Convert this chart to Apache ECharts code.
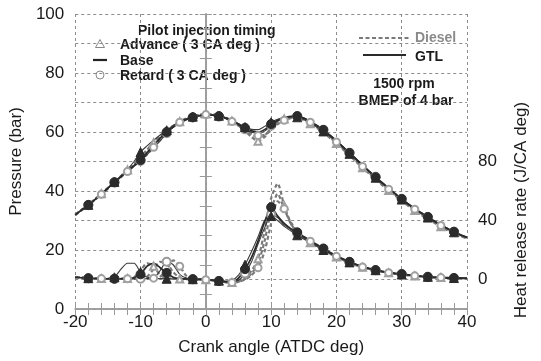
<!DOCTYPE html>
<html>
<head>
<meta charset="utf-8">
<script src="https://cdn.jsdelivr.net/npm/echarts@6/dist/echarts.min.js"></script>
<style>
  html, body { margin: 0; padding: 0; background: #fff; }
  #chart { width: 541px; height: 361px; }
</style>
</head>
<body>
<div id="chart"></div>
<script>
// Crank angle, ATDC deg
const CRANK = [-20,-19,-18,-17,-16,-15,-14,-13,-12,-11,-10,-9,-8,-7,-6,-5,-4,-3,-2,-1,
  0,1,2,3,4,5,6,7,8,9,10,11,12,13,14,15,16,17,18,19,20,21,22,23,24,25,26,27,28,29,
  30,31,32,33,34,35,36,37,38,39,40];

// Cylinder pressure, bar
const P_GTL_BASE = [31.9,33.6,35.3,37.1,39.0,41.0,43.0,44.9,46.8,48.6,50.5,53.0,55.4,57.9,60.0,61.7,63.1,64.2,65.0,65.5,
  65.7,65.7,65.4,64.8,63.9,62.7,61.4,60.4,60.0,60.8,62.7,64.0,64.8,65.3,65.4,64.7,63.5,62.2,60.7,58.9,
  57.0,55.0,52.9,50.9,48.8,46.7,44.7,42.8,41.0,39.1,37.3,35.6,34.0,32.6,31.2,29.8,28.5,27.3,26.2,25.2,24.3];
const P_GTL_ADV = [31.9,33.6,35.3,37.1,39.0,41.0,43.1,45.1,47.3,50.0,53.2,55.3,57.2,59.0,60.6,62.2,63.5,64.5,65.2,65.7,
  65.9,65.8,65.5,64.8,63.9,62.8,61.7,60.9,60.8,61.9,63.3,64.3,64.9,65.1,65.0,64.2,63.0,61.7,60.2,58.5,
  56.6,54.6,52.6,50.6,48.5,46.5,44.5,42.6,40.8,38.9,37.1,35.4,33.8,32.4,31.0,29.6,28.3,27.1,26.0,25.0,24.1];
const P_GTL_RET = [31.9,33.6,35.2,37.0,38.9,40.8,42.8,44.7,46.6,48.4,50.2,52.3,54.6,57.0,59.6,61.6,63.1,64.2,64.9,65.4,
  65.6,65.6,65.2,64.6,63.6,62.3,60.9,59.9,59.6,60.3,62.2,63.7,64.6,65.2,65.3,64.7,63.6,62.3,60.8,59.0,
  57.1,55.1,53.0,51.0,48.9,46.8,44.8,42.9,41.0,39.2,37.4,35.7,34.1,32.6,31.2,29.9,28.6,27.4,26.2,25.2,24.3];
const P_DSL_ADV = [32.0,33.7,35.4,37.2,39.1,41.1,43.1,45.1,47.1,49.2,51.6,54.0,56.4,58.6,60.5,62.1,63.5,64.6,65.4,65.9,
  66.1,66.0,65.6,64.9,63.7,62.2,60.4,58.3,56.9,58.3,61.5,63.5,64.4,64.8,64.8,64.0,62.8,61.4,59.8,58.0,
  56.1,54.1,52.1,50.0,47.9,45.9,43.9,42.0,40.2,38.4,36.6,35.0,33.4,31.9,30.5,29.2,27.9,26.7,25.6,24.7,23.9];
const P_DSL_BASE = [31.9,33.6,35.3,37.1,39.0,41.0,43.0,44.9,46.9,48.8,50.9,53.3,55.9,58.3,60.3,62.0,63.4,64.5,65.3,65.8,
  66.0,65.9,65.5,64.8,63.7,62.3,60.7,59.1,58.2,58.9,61.0,63.0,64.2,64.8,64.9,64.3,63.1,61.7,60.1,58.3,
  56.4,54.4,52.4,50.3,48.2,46.2,44.2,42.3,40.5,38.7,36.9,35.3,33.7,32.2,30.8,29.5,28.2,27.0,25.9,25.0,24.1];
const P_DSL_RET = [31.8,33.5,35.2,37.0,38.9,40.8,42.8,44.7,46.6,48.5,50.4,52.4,54.8,57.3,59.8,61.8,63.3,64.4,65.2,65.7,
  65.9,65.8,65.4,64.7,63.6,62.3,60.8,59.5,58.8,59.1,60.6,62.6,64.0,64.7,64.9,64.4,63.3,61.9,60.3,58.5,
  56.6,54.6,52.5,50.4,48.3,46.3,44.3,42.4,40.6,38.8,37.0,35.4,33.8,32.3,30.9,29.6,28.3,27.1,26.0,25.1,24.2];

// Heat release rate, J/CA deg
const H_GTL_BASE = [1.5,1.2,0.9,0.7,0.6,0.5,0.5,0.5,0.7,1.2, 3.5,9,11,8,4.5,1.5,0.6,0.4,0.2,0.1,
  0,-0.4,-1,-1.5,-1.5,1,7,15,26,39, 49,43,38,34.5,32,29,26.5,23.7,21,18.5,
  16,14,12,10.3,8.8,7.5,6.4,5.5,4.8,4.2, 3.7,3.2,2.7,2.2,1.8,1.5,1.3,1.1,1,0.9, 0.8];
const H_GTL_ADV = [1.5,1.2,0.9,0.7,0.6,0.6,1.5,7,11,11, 5,1.5,0.8,0.6,0.5,0.5,0.4,0.3,0.2,0.1,
  0,-0.3,-0.8,-1.2,-0.5,3,10,19,29,40, 43,40,36,33,30,27.5,25,22.5,20,17.7,
  15.5,13.5,11.6,10,8.6,7.4,6.3,5.4,4.6,4, 3.4,2.9,2.5,2.1,1.8,1.5,1.3,1.1,1,0.9, 0.8];
const H_GTL_RET = [1.5,1.2,0.9,0.7,0.6,0.5,0.5,0.4,0.4,0.4, 0.5,0.6,1,6,12,10,3.5,1,0.3,0.1,
  0,-0.4,-1,-1.5,-1.8,-0.5,4,12,24,35, 44,42,37,34,31,28.5,26,23.3,20.8,18.3,
  15.8,13.8,11.8,10.1,8.7,7.4,6.3,5.4,4.7,4.1, 3.6,3.1,2.6,2.2,1.8,1.5,1.3,1.1,1,0.9, 0.8];
const H_DSL_ADV = [1.6,1.3,1,0.8,0.6,0.5,0.5,0.5,0.6,1.5, 6,11,9,3,1,0.5,0.3,0.2,0.1,0,
  -0.2,-0.6,-1.2,-1.8,-2,-1.2,1.5,6,14,33, 55,65,50,38,31.5,28,25,22.3,19.8,17.4,
  15.2,13.2,11.3,9.7,8.3,7.1,6.1,5.2,4.5,3.9, 3.3,2.8,2.4,2,1.7,1.5,1.3,1.1,1,0.9, 0.8];
const H_DSL_BASE = [1.6,1.3,1,0.8,0.6,0.5,0.5,0.5,0.5,0.6, 1,2,7,12,11,5,1.2,0.4,0.2,0.1,
  -0.2,-0.6,-1.2,-1.8,-2,-1.5,0.5,4,11,26, 47,58,48,38,32,28.5,25.5,22.8,20.2,17.8,
  15.5,13.4,11.5,9.8,8.4,7.2,6.2,5.3,4.6,4, 3.4,2.9,2.5,2.1,1.8,1.5,1.3,1.1,1,0.9, 0.8];
const H_DSL_RET = [1.6,1.3,1,0.8,0.6,0.5,0.5,0.5,0.5,0.5, 0.5,0.6,0.9,2,7,13,9,2.5,0.6,0.2,
  -0.1,-0.5,-1.1,-1.7,-2,-1.6,0,3,8,19, 38,53,48,39,32.5,29,26,23.2,20.5,18,
  15.7,13.6,11.6,9.9,8.5,7.3,6.2,5.3,4.6,4, 3.4,2.9,2.5,2.1,1.8,1.5,1.3,1.1,1,0.9, 0.8];

// Crank angles carrying a marker
const GTL_MARKS = [-18,-14,-10,-6,-2,2,6,10,14,18,22,26,30,34,38];
const DSL_MARKS = [-16,-12,-8,-4,0,4,8,12,16,20,24,28,32,36];

// Axis tick labels
const X_TICKS = [-20,-10,0,10,20,30,40];
const P_TICKS = [0,20,40,60,80,100];
const H_TICKS = [0,40,80];

const FONT = 'Liberation Sans, Arial, sans-serif';
const INK = '#1a1a1a';
const FRAME = '#9a9a9a';
const GRIDC = '#8c8c8c';

function pts(vals, marks, sym) {
  return CRANK.map((x, i) => ({
    value: [x, vals[i]],
    symbol: (sym && marks.indexOf(x) >= 0) ? sym : 'none'
  }));
}

const dieselLine = { color: '#7a7a7a', width: 2.2, type: [4, 2.5] };
const gtlLine = { color: '#3a3a3a', width: 1.1 };
const gtlBaseLine = { color: '#2a2a2a', width: 1.7 };

function series(name, yIdx, vals, marks, sym, line, mark) {
  return {
    name, type: 'line', xAxisIndex: 0, yAxisIndex: yIdx,
    data: pts(vals, marks, sym),
    smooth: 0.25, showAllSymbol: true,
    symbolSize: mark.size,
    lineStyle: line,
    itemStyle: { color: mark.color, borderColor: mark.border || mark.color, borderWidth: mark.bw || 1 },
    silent: true, animation: false
  };
}

const dslMark = { size: 7, color: '#a0a0a0', border: '#a0a0a0', bw: 1 };
const gtlFill = { size: 9, color: '#2b2b2b' };
const gtlTri = { size: 9, color: '#2b2b2b' };
const gtlOpen = { size: 8, color: '#9a9a9a', border: '#9a9a9a', bw: 1 };
const noMark = { size: 0, color: '#777' };

const chart = echarts.init(document.getElementById('chart'), null, { renderer: 'canvas' });

const seriesList = [
  // Diesel (dashed)
  series('Diesel base P', 0, P_DSL_BASE, DSL_MARKS, null, dieselLine, noMark),
  series('Diesel advance P', 0, P_DSL_ADV, DSL_MARKS, 'emptyTriangle', dieselLine, dslMark),
  series('Diesel retard P', 0, P_DSL_RET, DSL_MARKS, 'emptyCircle', dieselLine, dslMark),
  series('Diesel base HRR', 2, H_DSL_BASE, DSL_MARKS, null, dieselLine, noMark),
  series('Diesel advance HRR', 2, H_DSL_ADV, DSL_MARKS, 'emptyTriangle', dieselLine, dslMark),
  series('Diesel retard HRR', 2, H_DSL_RET, DSL_MARKS, 'emptyCircle', dieselLine, dslMark),
  // GTL (solid)
  series('GTL retard P', 0, P_GTL_RET, GTL_MARKS, 'emptyCircle', gtlLine, gtlOpen),
  series('GTL advance P', 0, P_GTL_ADV, GTL_MARKS, 'triangle', gtlLine, gtlTri),
  series('GTL base P', 0, P_GTL_BASE, GTL_MARKS, 'circle', gtlBaseLine, gtlFill),
  series('GTL retard HRR', 2, H_GTL_RET, GTL_MARKS, 'emptyCircle', gtlLine, gtlOpen),
  series('GTL advance HRR', 2, H_GTL_ADV, GTL_MARKS, 'triangle', gtlLine, gtlTri),
  series('GTL base HRR', 2, H_GTL_BASE, GTL_MARKS, 'circle', gtlBaseLine, gtlFill)
];

const boldText = (x, y, text, extra) => ({
  type: 'text', x, y,
  style: Object.assign({ text, font: 'bold 14px ' + FONT, fill: INK, textVerticalAlign: 'middle' }, extra || {})
});

chart.setOption({
  animation: false,
  backgroundColor: '#fff',
  grid: { left: 72, right: 74, top: 14, bottom: 52, containLabel: false },
  xAxis: [
    {
      type: 'value', min: -20, max: 40, interval: 10, position: 'bottom',
      name: 'Crank angle (ATDC deg)', nameLocation: 'middle', nameGap: 30,
      nameTextStyle: { fontFamily: FONT, fontSize: 17, color: INK },
      axisLine: { show: true, lineStyle: { color: FRAME, width: 1.5 } },
      axisTick: { show: true, inside: true, length: 6, lineStyle: { color: FRAME } },
      minorTick: { show: true, splitNumber: 5, length: 6, lineStyle: { color: FRAME } },
      axisLabel: {
        fontFamily: FONT, fontSize: 17, color: INK, margin: 5,
        formatter: v => X_TICKS.indexOf(v) >= 0 ? String(v) : ''
      },
      splitLine: { show: true, lineStyle: { color: GRIDC, type: [3, 3], width: 1 } }
    },
    {
      type: 'value', min: -20, max: 40, interval: 10, position: 'top',
      axisLine: { show: true, lineStyle: { color: FRAME, width: 1.5 } },
      axisTick: { show: true, inside: true, length: 6, lineStyle: { color: FRAME } },
      minorTick: { show: true, splitNumber: 5, length: 6, lineStyle: { color: FRAME } },
      axisLabel: { show: false }, splitLine: { show: false }
    }
  ],
  yAxis: [
    {
      type: 'value', min: 0, max: 100, interval: 10, position: 'left',
      name: 'Pressure (bar)', nameLocation: 'middle', nameGap: 48,
      nameTextStyle: { fontFamily: FONT, fontSize: 17, color: INK },
      axisLine: { show: true, lineStyle: { color: FRAME, width: 1.5 } },
      axisTick: { show: true, inside: true, length: 6, lineStyle: { color: FRAME } },
      minorTick: { show: true, splitNumber: 2, length: 6, lineStyle: { color: FRAME } },
      axisLabel: {
        fontFamily: FONT, fontSize: 17, color: INK, margin: 11,
        formatter: v => P_TICKS.indexOf(v) >= 0 ? String(v) : ''
      },
      splitLine: { show: true, lineStyle: { color: GRIDC, type: [3, 3], width: 1 } }
    },
    {
      type: 'value', min: 0, max: 100, interval: 10, position: 'right',
      axisLine: { show: true, lineStyle: { color: FRAME, width: 1.5 } },
      axisTick: { show: true, inside: true, length: 6, lineStyle: { color: FRAME } },
      minorTick: { show: true, splitNumber: 2, length: 6, lineStyle: { color: FRAME } },
      axisLabel: { show: false }, splitLine: { show: false }
    },
    {
      type: 'value', min: -20, max: 180, interval: 20, position: 'right',
      axisLine: { show: false }, axisTick: { show: false }, splitLine: { show: false },
      axisLabel: {
        fontFamily: FONT, fontSize: 17, color: INK, margin: 11,
        formatter: v => H_TICKS.indexOf(v) >= 0 ? String(v) : ''
      }
    }
  ],
  series: seriesList,
  graphic: [
    {
      type: 'text', x: 521, y: 210, rotation: Math.PI / 2,
      style: { text: 'Heat release rate (J/CA deg)', font: '17px ' + FONT, fill: INK,
               textAlign: 'center', textVerticalAlign: 'middle' }
    },
    boldText(138, 31, 'Pilot injection timing'),
    {
      type: 'polygon', shape: { points: [[100, 39.5], [104.5, 47.5], [95.5, 47.5]] },
      style: { fill: '#fff', stroke: '#888', lineWidth: 1 }
    },
    boldText(120, 45, 'Advance ( 3 CA deg )'),
    { type: 'line', shape: { x1: 93, y1: 60, x2: 107, y2: 60 }, style: { stroke: '#222', lineWidth: 2.2 } },
    boldText(120, 61, 'Base'),
    { type: 'circle', shape: { cx: 100, cy: 75, r: 4 }, style: { fill: '#fff', stroke: '#888', lineWidth: 1 } },
    boldText(120, 76, 'Retard ( 3 CA deg )'),
    {
      type: 'line', shape: { x1: 359, y1: 38, x2: 410, y2: 38 },
      style: { stroke: '#7a7a7a', lineWidth: 2.2, lineDash: [4, 2.5] }
    },
    boldText(415, 38, 'Diesel', { fill: '#8a8a8a' }),
    { type: 'line', shape: { x1: 363, y1: 55, x2: 406, y2: 55 }, style: { stroke: '#2a2a2a', lineWidth: 1.8 } },
    boldText(415, 57, 'GTL'),
    boldText(404, 84, '1500 rpm', { textAlign: 'center' }),
    boldText(406, 101, 'BMEP of 4 bar', { textAlign: 'center' })
  ]
});
</script>
</body>
</html>
